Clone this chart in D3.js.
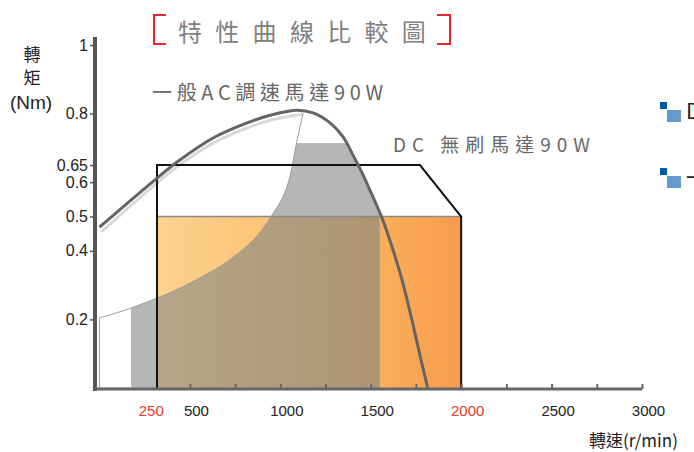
<!DOCTYPE html>
<html><head><meta charset="utf-8">
<script src="https://cdn.jsdelivr.net/npm/d3@7"></script>
<style>
body{margin:0;background:#fff;overflow:hidden;}
svg{display:block;font-family:"Liberation Sans",Arial,sans-serif;}
.cjk{font-family:"Noto Sans CJK TC","Noto Sans CJK SC",sans-serif;}
</style>
</head><body><svg id="c" width="694" height="452"></svg>
<script>
// ---------- data ----------
const xTickLabels = [250, 500, 1000, 1500, 2000, 2500, 3000];
const xHighlight = [250, 2000];
const xMinorTicks = [500, 750, 1000, 1250, 1500, 1750, 2000, 2250, 2500, 2750, 3000];
const yTickValues = [0.2, 0.4, 0.5, 0.6, 0.65, 0.8, 1];

// AC speed-control motor torque curve (rpm, Nm)
const acTorque = [[0,0.469],[318,0.612],[429,0.659],[628,0.729],[816,0.773],[949,0.796],[1092,0.810],[1181,0.802],[1275,0.773],[1347,0.732],[1402,0.679],[1452,0.627],[1507,0.563],[1562,0.496],[1618,0.411],[1673,0.315],[1734,0.184],[1778,0.082],[1815,0]];
// secondary light curve
const acShadow = [[10,0.455],[318,0.598],[429,0.645],[628,0.714],[816,0.758],[949,0.781],[1060,0.793],[1120,0.797]];
// AC usable region boundary (thin line)
const acBoundary = [[0,0.204],[174,0.233],[318,0.262],[456,0.294],[583,0.329],[694,0.364],[816,0.414],[899,0.461],[954,0.504],[1015,0.557],[1054,0.618],[1087,0.708],[1126,0.802]];
const acRegionStart = 174, acRegionEnd = 1550, acRegionTop = 0.714;
// DC brushless motor envelope
const dcOutline = [[318,0],[318,0.65],[1772,0.65],[2000,0.5],[2000,0]];
const dcRated = {from:318, to:2000, torque:0.5};

const titleText = "特性曲線比較圖";
const acLabel = "一般AC調速馬達90W";
const dcLabel = "DC 無刷馬達90W";
const legendItems = ["DC無刷馬達", "一般AC調速馬達"];

// ---------- scales ----------
const svg = d3.select("#c");
const x = d3.scaleLinear().domain([0, 3000]).range([99.5, 642]);
const y = d3.scaleLinear().domain([0, 1]).range([388, 45]);

const defs = svg.append("defs");
const og = defs.append("linearGradient").attr("id","orangeG").attr("gradientUnits","userSpaceOnUse")
  .attr("x1", x(dcRated.from)).attr("x2", x(dcRated.to)).attr("y1",0).attr("y2",0);
og.append("stop").attr("offset",0).attr("stop-color","#fdd290");
og.append("stop").attr("offset",0.4).attr("stop-color","#fcc272");
og.append("stop").attr("offset",0.75).attr("stop-color","#faae58");
og.append("stop").attr("offset",1).attr("stop-color","#f79b4e");
const bg = defs.append("linearGradient").attr("id","brownG").attr("gradientUnits","userSpaceOnUse")
  .attr("x1", x(dcRated.from)).attr("x2", x(acRegionEnd)).attr("y1",0).attr("y2",0);
bg.append("stop").attr("offset",0).attr("stop-color","#b5a588");
bg.append("stop").attr("offset",1).attr("stop-color","#ad9473");

const curve = d3.curveCatmullRom.alpha(0.5);
const lineGen = d3.line().x(d=>x(d[0])).y(d=>y(d[1])).curve(curve);
const areaGen = d3.area().x(d=>x(d[0])).y0(y(0)).y1(d=>y(d[1])).curve(curve);

// clip: below the AC boundary
const last = acBoundary[acBoundary.length-1];
defs.append("clipPath").attr("id","clipThin").append("path")
  .attr("d", lineGen(acBoundary) + `L${x(3000)},${y(last[1])}L${x(3000)},${y(0)+4}L${x(0)},${y(0)+4}Z`);
defs.append("clipPath").attr("id","clipThick").append("path")
  .attr("d", areaGen(acTorque) + `L${x(0)},${y(0)+4}Z`);

// AC gray region
svg.append("g").attr("clip-path","url(#clipThin)")
  .append("rect").attr("clip-path","url(#clipThick)")
  .attr("x", x(acRegionStart)).attr("y", y(acRegionTop))
  .attr("width", x(acRegionEnd)-x(acRegionStart)).attr("height", y(0)-y(acRegionTop))
  .attr("fill","#b5b6b8");

// DC rated orange region
svg.append("rect").attr("x", x(dcRated.from)).attr("y", y(dcRated.torque))
  .attr("width", x(dcRated.to)-x(dcRated.from)).attr("height", y(0)-y(dcRated.torque))
  .attr("fill","url(#orangeG)");
// overlap
svg.append("g").attr("clip-path","url(#clipThin)")
  .append("rect").attr("x", x(dcRated.from)).attr("y", y(dcRated.torque))
  .attr("width", x(acRegionEnd)-x(dcRated.from)).attr("height", y(0)-y(dcRated.torque))
  .attr("fill","url(#brownG)");
svg.append("line").attr("x1",x(dcRated.from)).attr("x2",x(dcRated.to))
  .attr("y1",y(dcRated.torque)).attr("y2",y(dcRated.torque)).attr("stroke","#8a8a8a").attr("stroke-width",1.5);
svg.append("line").attr("x1",x(acRegionEnd)).attr("x2",x(acRegionEnd))
  .attr("y1",y(dcRated.torque)).attr("y2",y(0)).attr("stroke","#aaa").attr("stroke-width",1);

// AC boundary thin line
svg.append("path").attr("d", `M${x(0)},${y(0)}L${x(0)},${y(acBoundary[0][1])}` + lineGen(acBoundary).replace(/^M[^CL]*/,""))
  .attr("fill","none").attr("stroke","#9a9a9a").attr("stroke-width",1);
svg.append("line").attr("x1",x(0)).attr("x2",x(acRegionStart)).attr("y1",y(0)).attr("y2",y(0))
  .attr("stroke","#bbb").attr("stroke-width",1);

// shadow curve & torque curve
svg.append("path").attr("d", lineGen(acShadow)).attr("fill","none")
  .attr("stroke","#d9d9d9").attr("stroke-width",3);
svg.append("path").attr("d", d3.line().x(d=>x(d[0])).y(d=>y(d[1]))(dcOutline))
  .attr("fill","none").attr("stroke","#111").attr("stroke-width",2).attr("stroke-linejoin","miter");
svg.append("path").attr("d", lineGen(acTorque)).attr("fill","none")
  .attr("stroke","#646464").attr("stroke-width",3);

// ---------- axes ----------
const axisX0 = 95;
const yAxis = svg.append("g").attr("transform",`translate(${axisX0},0)`)
  .call(d3.axisLeft(y).tickValues(yTickValues).tickSize(5).tickPadding(2).tickFormat(d=>String(d)));
yAxis.select(".domain").remove();
yAxis.selectAll(".tick line").attr("stroke","#555").attr("stroke-width",1.5);
yAxis.selectAll(".tick text").attr("fill","#222").style("font-size","16px")
  .style("font-family","'Liberation Sans',Arial,sans-serif");
svg.append("line").attr("x1",axisX0).attr("x2",axisX0).attr("y1",37).attr("y2",391)
  .attr("stroke","#555").attr("stroke-width",4);

const xAxisY = 389;
const xMinor = svg.append("g").attr("transform",`translate(0,${xAxisY})`)
  .call(d3.axisBottom(x).tickValues(xMinorTicks).tickSize(-5).tickFormat(""));
xMinor.select(".domain").remove();
xMinor.selectAll(".tick line").attr("stroke","#666").attr("stroke-width",2);
const xLab = svg.append("g").attr("transform",`translate(0,${xAxisY})`)
  .call(d3.axisBottom(x).tickValues(xTickLabels).tickSize(0).tickPadding(16).tickFormat(d=>String(d)));
xLab.select(".domain").remove();
xLab.selectAll(".tick text").attr("dx",6).style("font-size","15px")
  .style("font-family","'Liberation Sans',Arial,sans-serif")
  .attr("fill", d => xHighlight.includes(d) ? "#e8392e" : "#222");
svg.append("line").attr("x1",axisX0).attr("x2",x(3000)).attr("y1",xAxisY).attr("y2",xAxisY)
  .attr("stroke","#666").attr("stroke-width",3);

// ---------- texts ----------
svg.append("text").attr("class","cjk").attr("x",178).attr("y",41).text(titleText)
  .attr("fill","#808080").style("font-size","24px").style("letter-spacing","13.3px");
const br = svg.append("g").attr("stroke","#e8262c").attr("stroke-width",2).attr("fill","none");
br.append("path").attr("d","M166,15H154V44H166");
br.append("path").attr("d","M437,15H450V44H437");

svg.append("text").attr("class","cjk").attr("x",152).attr("y",100).text(acLabel)
  .attr("fill","#666").style("font-size","20px").attr("textLength",231).attr("lengthAdjust","spacing");
svg.append("text").attr("class","cjk").attr("x",393).attr("y",152).text(dcLabel)
  .attr("fill","#666").style("font-size","19px").attr("textLength",197).attr("lengthAdjust","spacing");

const yt = svg.append("g").attr("class","cjk").attr("fill","#222").attr("text-anchor","middle");
yt.append("text").attr("x",32).attr("y",61).text("轉").style("font-size","17px");
yt.append("text").attr("x",32).attr("y",84).text("矩").style("font-size","17px");
yt.append("text").attr("x",31).attr("y",109).text("(Nm)").style("font-size","19px")
  .style("font-family","'Liberation Sans',Arial,sans-serif");

svg.append("text").attr("class","cjk").attr("x",589).attr("y",447).text("轉速(r/min)")
  .attr("fill","#222").style("font-size","17px");

// legend (cut off at right edge, as in the reference)
legendItems.forEach((t,i)=>{
  const gy = 102 + i*66;
  svg.append("rect").attr("x",660).attr("y",gy).attr("width",7).attr("height",7).attr("fill","#005ba3");
  svg.append("rect").attr("x",667).attr("y",gy+8).attr("width",14).attr("height",12).attr("fill","#6699cc");
  svg.append("text").attr("class","cjk").attr("x",686).attr("y",gy+17).text(t)
    .attr("fill","#222").style("font-size","21px");
});
</script>
</body></html>
